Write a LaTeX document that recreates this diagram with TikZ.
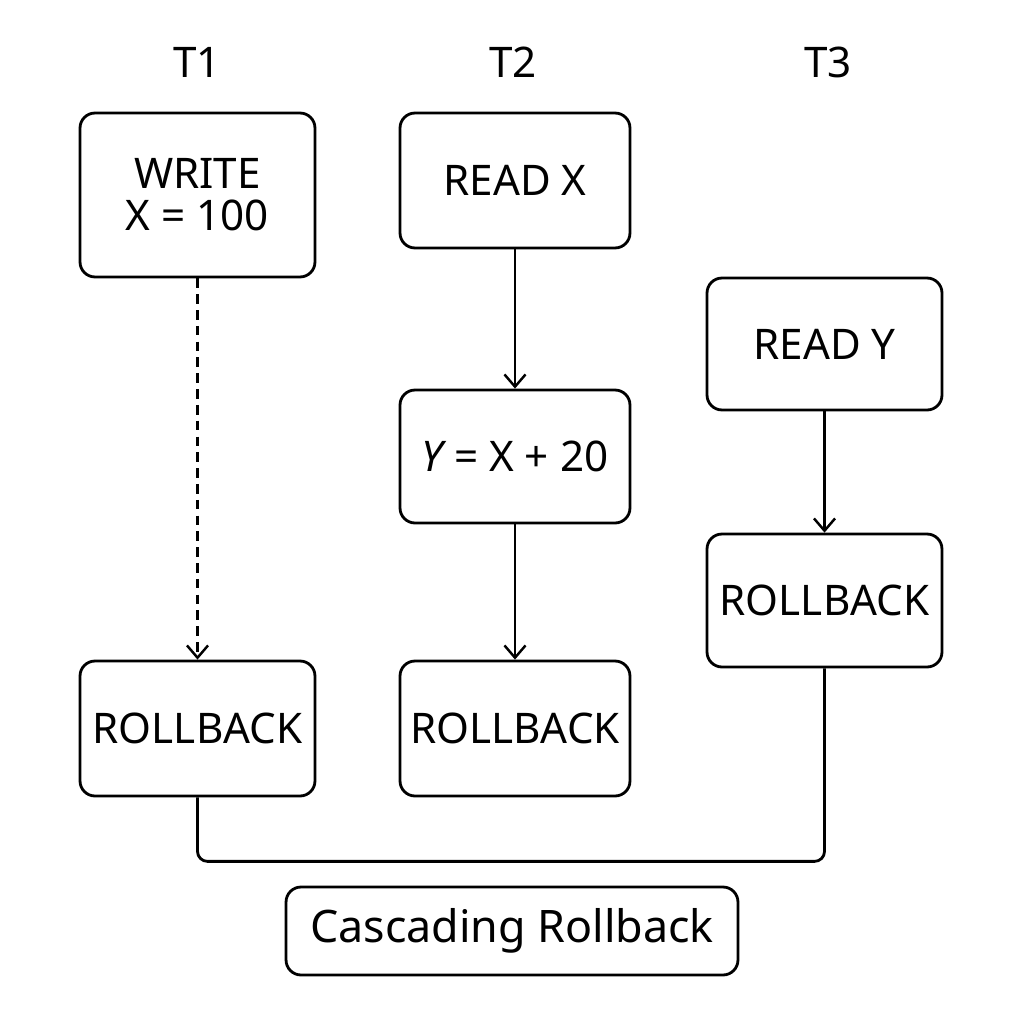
\documentclass[tikz,border=0pt]{standalone}
\usepackage{fontspec}
\setmainfont{Noto Sans}
\usepackage{tikz}
\usetikzlibrary{arrows.meta,calc,positioning}

\begin{document}
\begin{tikzpicture}[x=0.02cm, y=-0.02cm,
  every node/.style={font=\fontsize{24}{28}\selectfont},
  op/.style={draw, line width=1.6pt, rounded corners=0.3cm, align=center,
    minimum width=4.7cm, minimum height=2.68cm, inner sep=0pt},
  link/.style={line width=1.4pt, -{Straight Barb[length=7pt,width=12pt,line width=1.4pt]}}]

  \useasboundingbox (0,0) rectangle (1024,1024);

  \node (t1) at (197,62) {T1};

  \node (t2) at (513,62) {T2};

  \node (t3) at (828,62) {T3};

  \node [op, minimum height=3.28cm] (w1) at (197.5,195) {WRITE\\[-4pt]X = 100};

  \node [op, minimum width=4.6cm, minimum height=2.7cm] (r2) at (515,180.5) {READ X};

  \node [op, minimum width=4.6cm, minimum height=2.66cm] (y2) at (515,456.5) {{\itshape Y} = X + 20};

  \node [op, minimum height=2.64cm] (r3) at (824.5,344) {READ Y};

  \node [op, minimum height=2.66cm] (rb3) at (824.5,600.5) {ROLLBACK};

  \node [op, minimum height=2.7cm] (rb1) at (197.5,728.5) {ROLLBACK};

  \node [op, minimum width=4.6cm, minimum height=2.7cm] (rb2) at (515,728.5) {ROLLBACK};

  \node [op, minimum width=9.04cm, minimum height=1.76cm, font=\fontsize{25.5}{30}\selectfont] (cr) at (512,931) {Cascading Rollback};

  \draw [link, dash pattern=on 5.5pt off 3.5pt] (w1) -- (rb1);

  \draw [link] (r2) -- (y2);

  \draw [link] (y2) -- (rb2);

  \draw [link] (r3) -- (rb3);

  \draw [line width=1.6pt, rounded corners=0.2cm] (rb1.south) -- ++(0,64) -| (rb3.south);

\end{tikzpicture}
\end{document}
